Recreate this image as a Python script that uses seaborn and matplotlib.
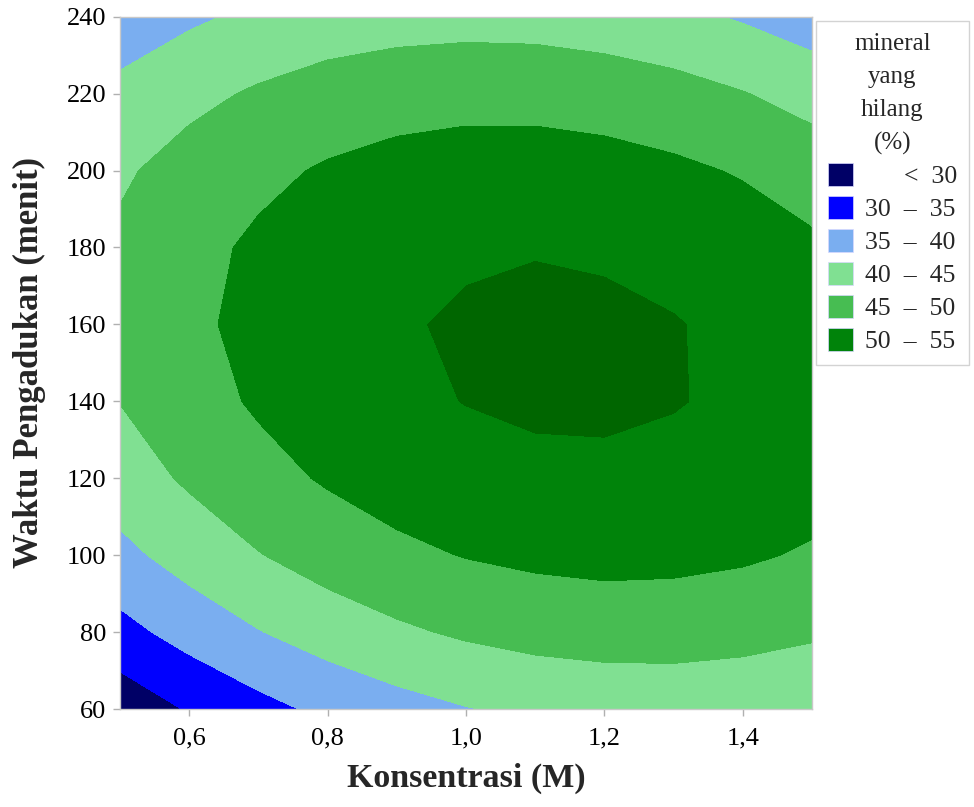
import numpy as np
import matplotlib
matplotlib.use("Agg")
import matplotlib.pyplot as plt
from matplotlib.patches import Patch
import seaborn as sns

# Konsentrasi (M) and Waktu Pengadukan (menit) grid
konsentrasi = [0.5, 0.6, 0.7, 0.8, 0.9, 1.0, 1.1, 1.2, 1.3, 1.4, 1.5]
waktu = [60, 80, 100, 120, 140, 160, 180, 200, 220, 240]

# mineral yang hilang (%), one row per waktu
hilang = [
    [26.8, 30.4, 33.5, 36.1, 38.2, 39.8, 41.0, 41.6, 41.8, 41.4, 40.6],
    [33.4, 36.9, 39.8, 42.3, 44.2, 45.7, 46.7, 47.2, 47.2, 46.7, 45.7],
    [38.7, 42.0, 44.8, 47.1, 48.9, 50.2, 51.0, 51.4, 51.2, 50.6, 49.5],
    [42.6, 45.7, 48.4, 50.5, 52.2, 53.4, 54.0, 54.2, 53.9, 53.1, 51.9],
    [45.1, 48.1, 50.6, 52.6, 54.1, 55.1, 55.7, 55.7, 55.2, 54.3, 52.9],
    [46.2, 49.0, 51.4, 53.2, 54.6, 55.5, 55.9, 55.8, 55.2, 54.1, 52.5],
    [45.9, 48.6, 50.8, 52.6, 53.8, 54.5, 54.8, 54.5, 53.8, 52.5, 50.8],
    [44.3, 46.9, 48.9, 50.5, 51.6, 52.2, 52.2, 51.8, 50.9, 49.6, 47.7],
    [41.3, 43.7, 45.6, 47.1, 48.0, 48.4, 48.4, 47.8, 46.8, 45.2, 43.2],
    [37.0, 39.2, 41.0, 42.3, 43.0, 43.3, 43.1, 42.4, 41.2, 39.5, 37.4],
]

levels = [0, 30, 35, 40, 45, 50, 55, 100]
warna = ["#000066", "#0000ff", "#7aaef0", "#80e092", "#47bd52", "#00830a", "#006600"]
legend_labels = ["      <  30", "30  \u2013  35", "35  \u2013  40",
                 "40  \u2013  45", "45  \u2013  50", "50  \u2013  55"]

sns.set_theme(style="ticks")
plt.rcParams["font.family"] = ["Liberation Serif", "DejaVu Serif"]

fig = plt.figure(figsize=(9.74, 8.07), dpi=100)
ax = fig.add_axes([0.1232, 0.1214, 0.7105, 0.8579])

X, Y = np.meshgrid(konsentrasi, waktu)
ax.contourf(X, Y, np.array(hilang), levels=levels, colors=warna)

ax.set_xlim(0.5, 1.5)
ax.set_ylim(60, 240)
ax.set_xticks([0.6, 0.8, 1.0, 1.2, 1.4])
ax.set_xticklabels(["0,6", "0,8", "1,0", "1,2", "1,4"])
ax.set_yticks(range(60, 241, 20))
ax.tick_params(axis="both", labelsize=19, colors="#b0b0b0", labelcolor="black",
               length=5, width=1, direction="out")
ax.tick_params(axis="x", pad=8)
ax.tick_params(axis="y", pad=5)
for s in ax.spines.values():
    s.set_color("#c8c8c8")
    s.set_linewidth(1)

ax.set_xlabel("Konsentrasi (M)", fontsize=24.5, fontweight="bold", labelpad=10)
ax.set_ylabel("Waktu Pengadukan (menit)", fontsize=25, fontweight="bold", labelpad=15)

handles = [Patch(facecolor=c, edgecolor="#d8d8ff", linewidth=0.5) for c in warna[:6]]
leg = fig.legend(handles, legend_labels, loc="upper left",
                 bbox_to_anchor=(816 / 974, 1 - 21 / 807),
                 title="mineral\nyang\nhilang\n(%)", fontsize=18.5, title_fontsize=18,
                 frameon=True, fancybox=False, edgecolor="#c8c8c8",
                 handlelength=1.0, handleheight=1.0, handletextpad=0.45,
                 labelspacing=0.3, borderpad=0.45, borderaxespad=0)
leg.get_frame().set_linewidth(1)
leg.get_title().set_linespacing(1.65)
plt.setp(leg.get_title(), multialignment="center")

fig.savefig("out.png", dpi=100)
